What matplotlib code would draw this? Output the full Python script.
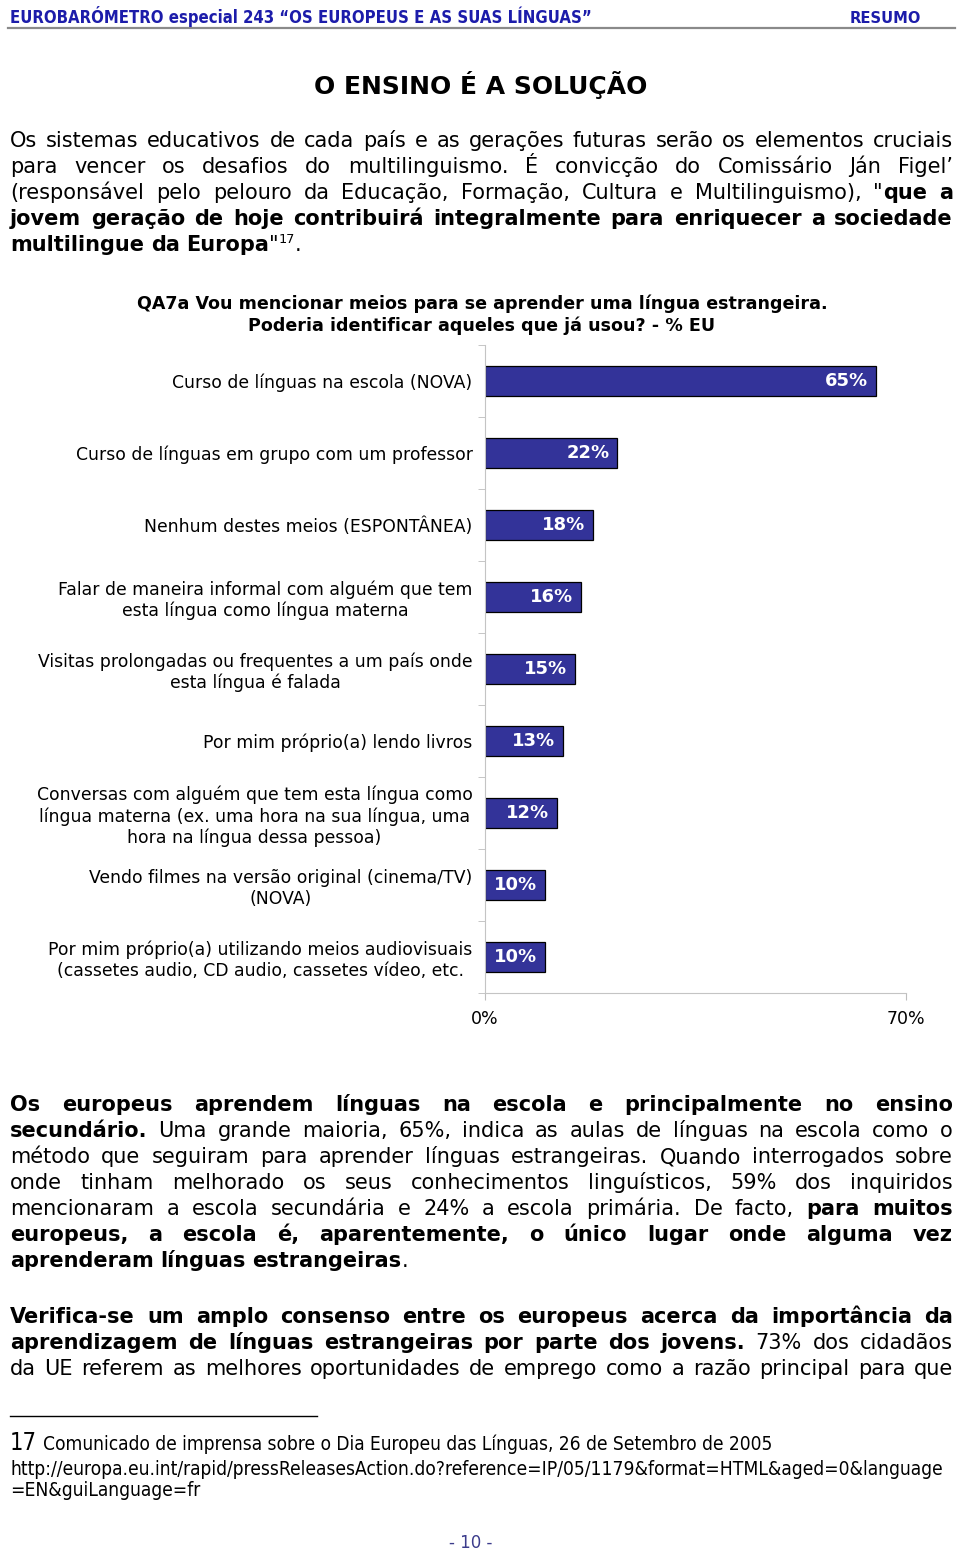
import matplotlib
matplotlib.use('Agg')
import matplotlib.pyplot as plt
import numpy as np

W, H = 960, 1550

# chart data
categories = [
    'Curso de línguas na escola (NOVA)',
    'Curso de línguas em grupo com um professor',
    'Nenhum destes meios (ESPONTÂNEA)',
    'Falar de maneira informal com alguém que tem\nesta língua como língua materna',
    'Visitas prolongadas ou frequentes a um país onde\nesta língua é falada',
    'Por mim próprio(a) lendo livros',
    'Conversas com alguém que tem esta língua como\nlíngua materna (ex. uma hora na sua língua, uma\nhora na língua dessa pessoa)',
    'Vendo filmes na versão original (cinema/TV)\n(NOVA)',
    'Por mim próprio(a) utilizando meios audiovisuais\n(cassetes audio, CD audio, cassetes vídeo, etc.',
]
values = [65, 22, 18, 16, 15, 13, 12, 10, 10]
xticks = [0, 70]
xtick_labels = ['0%', '70%']

chart_title = ['QA7a Vou mencionar meios para se aprender uma língua estrangeira.',
               'Poderia identificar aqueles que já usou? - % EU']

# page text (* toggles bold, ^ toggles superscript)
para1 = [
    'Os sistemas educativos de cada país e as gerações futuras serão os elementos cruciais',
    'para vencer os desafios do multilinguismo. É convicção do Comissário Ján Figel’',
    '(responsável pelo pelouro da Educação, Formação, Cultura e Multilinguismo), "*que a*',
    '*jovem geração de hoje contribuirá integralmente para enriquecer a sociedade*',
    '*multilingue da Europa*"^17^.',
]
para2 = [
    '*Os europeus aprendem línguas na escola e principalmente no ensino*',
    '*secundário.* Uma grande maioria, 65%, indica as aulas de línguas na escola como o',
    'método que seguiram para aprender línguas estrangeiras. Quando interrogados sobre',
    'onde tinham melhorado os seus conhecimentos linguísticos, 59% dos inquiridos',
    'mencionaram a escola secundária e 24% a escola primária. De facto, *para muitos*',
    '*europeus, a escola é, aparentemente, o único lugar onde alguma vez*',
    '*aprenderam línguas estrangeiras*.',
]
para3 = [
    '*Verifica-se um amplo consenso entre os europeus acerca da importância da*',
    '*aprendizagem de línguas estrangeiras por parte dos jovens.* 73% dos cidadãos',
    'da UE referem as melhores oportunidades de emprego como a razão principal para que',
]

BODY = 15

fig = plt.figure(figsize=(9.6, 15.5), dpi=100)
fig.patch.set_facecolor('white')
renderer = fig.canvas.get_renderer()


def fx(x):
    return x / W


def fy(y):
    return 1 - y / H


def parse(line):
    words, cur, buf = [], [], ''
    bold = sup = False
    for ch in line:
        if ch in '*^ ':
            if buf:
                cur.append((buf, bold, sup))
                buf = ''
            if ch == '*':
                bold = not bold
            elif ch == '^':
                sup = not sup
            elif cur:
                words.append(cur)
                cur = []
        else:
            buf += ch
    if buf:
        cur.append((buf, bold, sup))
    if cur:
        words.append(cur)
    return words


def text_width(s, size, bold=False):
    t = fig.text(0, 0, s, fontsize=size, fontweight='bold' if bold else 'normal')
    w = t.get_window_extent(renderer).width
    t.remove()
    return w


def draw_line(y, line, size=BODY, justify=True, x0=10, x1=953):
    words = parse(line)
    widths = []
    for wd in words:
        widths.append(sum(text_width(p, size * 0.62 if sp else size, b) for p, b, sp in wd))
    space = text_width('a a', size) - text_width('aa', size)
    if justify and len(words) > 1:
        gap = (x1 - x0 - sum(widths)) / (len(words) - 1)
    else:
        gap = space
    x = x0
    for wd, ww in zip(words, widths):
        xp = x
        for p, b, sp in wd:
            s = size * 0.62 if sp else size
            yy = y - (8 if sp else 0)
            fig.text(fx(xp), fy(yy), p, fontsize=s, fontweight='bold' if b else 'normal',
                     va='baseline', ha='left', color='black')
            xp += text_width(p, s, b)
        x += ww + gap


def draw_para(lines, y0, step=26, last_justified=False):
    for i, ln in enumerate(lines):
        draw_line(y0 + i * step, ln, justify=(i < len(lines) - 1 or last_justified))


def fit_text(x, y, s, width, **kw):
    t = fig.text(fx(x), fy(y), s, fontsize=10, va='baseline', **kw)
    w = t.get_window_extent(renderer).width
    t.set_fontsize(10 * width / w)
    return t


# header
fit_text(10, 23, 'EUROBARÓMETRO especial 243 “OS EUROPEUS E AS SUAS LÍNGUAS”', 580,
         fontweight='bold', color='#1c1caa', fontstretch='condensed')
fit_text(850, 23, 'RESUMO', 71, fontweight='bold', color='#1c1caa', fontstretch='condensed')
fig.add_artist(plt.Line2D([fx(8), fx(955)], [fy(28), fy(28)], color='#8a8a8a', lw=1.6))

# title
fig.text(fx(481), fy(94), 'O ENSINO É A SOLUÇÃO', fontsize=18, fontweight='bold',
         ha='center', va='baseline')

draw_para(para1, 147)

for i, ln in enumerate(chart_title):
    fig.text(fx(482), fy(309 + i * 22), ln, fontsize=12.6, fontweight='bold',
             ha='center', va='baseline')

# chart
ax = fig.add_axes([485 / W, 1 - 993 / H, 421 / W, 648 / H])
pos = np.arange(len(categories))
ax.barh(pos, values, height=0.42, color='#333399', edgecolor='black', lw=0.9)
for p, v in zip(pos, values):
    ax.text(v - 1.3, p, f'{v}%', ha='right', va='center', color='white',
            fontweight='bold', fontsize=13)
ax.set_xlim(0, 70)
ax.set_ylim(len(categories) - 0.5, -0.5)
ax.set_yticks(pos)
ax.set_yticklabels(categories, fontsize=12.4)
for lab in ax.get_yticklabels():
    lab.set_multialignment('center')
ax.tick_params(axis='y', which='major', length=0, pad=9)
ax.set_yticks(np.arange(-0.5, len(categories), 1), minor=True)
ax.tick_params(axis='y', which='minor', length=5, color='#bdbdbd')
ax.set_xticks(xticks)
ax.set_xticklabels(xtick_labels, fontsize=12.5)
ax.tick_params(axis='x', length=5, color='#bdbdbd', pad=7.5)
for sp in ['top', 'right']:
    ax.spines[sp].set_visible(False)
for sp in ['left', 'bottom']:
    ax.spines[sp].set_color('#c4c4c4')

draw_para(para2, 1111)
draw_para(para3, 1323, last_justified=True)

# footnote
fig.add_artist(plt.Line2D([fx(10), fx(317)], [fy(1416), fy(1416)], color='black', lw=1.0))
fit_text(10, 1450, '17', 27, fontstretch='condensed')
fit_text(43, 1450, 'Comunicado de imprensa sobre o Dia Europeu das Línguas, 26 de Setembro de 2005',
         733, fontstretch='condensed')
t = fit_text(10, 1475, 'http://europa.eu.int/rapid/pressReleasesAction.do?reference=IP/05/1179&format=HTML&aged=0&language',
             936, fontstretch='condensed')
fig.text(fx(10), fy(1496), '=EN&guiLanguage=fr', fontsize=t.get_fontsize(),
         fontstretch='condensed', va='baseline')

fig.text(fx(471), fy(1548), '- 10 -', fontsize=12, color='#3c3c8c', ha='center', va='baseline')

fig.savefig('out.png', dpi=100, facecolor='white')
